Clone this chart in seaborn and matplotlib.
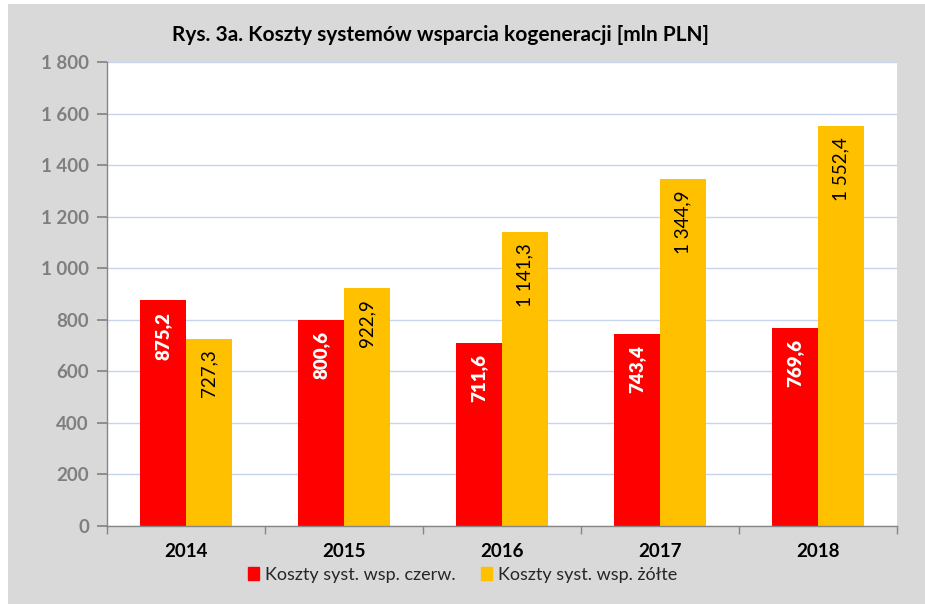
import matplotlib
matplotlib.use("Agg")
import matplotlib.pyplot as plt
import matplotlib.patches as mpatches
from matplotlib.ticker import FuncFormatter, FixedLocator
import seaborn as sns
import pandas as pd

years = ["2014", "2015", "2016", "2017", "2018"]
red_vals = [875.2, 800.6, 711.6, 743.4, 769.6]
yellow_vals = [727.3, 922.9, 1141.3, 1344.9, 1552.4]
series_names = ["Koszty syst. wsp. czerw.", "Koszty syst. wsp. żółte"]
title = "Rys. 3a. Koszty systemów wsparcia kogeneracji [mln PLN]"

df = pd.DataFrame({
    "year": years * 2,
    "value": red_vals + yellow_vals,
    "series": [series_names[0]] * len(years) + [series_names[1]] * len(years),
})

sns.set_theme(style="white")
plt.rcParams["font.family"] = ["Lato", "DejaVu Sans"]

W, H = 925, 604
fig = plt.figure(figsize=(W / 100, H / 100), dpi=100, facecolor="white")
fig.patches.append(mpatches.Rectangle((8 / W, 0), 1, 1 - 4 / H, transform=fig.transFigure,
                                      facecolor="#D9D9D9", edgecolor="none", zorder=-10))

ax = fig.add_axes([107 / W, (H - 526) / H, (897 - 107) / W, (526 - 62) / H])
ax.set_facecolor("white")

colors = ["#FF0000", "#FFC000"]
sns.barplot(data=df, x="year", y="value", hue="series", palette=colors, saturation=1,
            width=0.576, gap=0, ax=ax, legend=False, edgecolor="none")

ax.set_ylim(0, 1800)
ax.set_xlim(-0.5, len(years) - 0.5)
ax.yaxis.set_major_locator(FixedLocator(range(0, 1801, 200)))
ax.yaxis.set_major_formatter(FuncFormatter(lambda v, p: f"{int(v):,}".replace(",", " ")))
ax.grid(axis="y", color="#C6D5EC", linewidth=1)
ax.set_axisbelow(True)

for s in ["top", "right"]:
    ax.spines[s].set_visible(False)
for s in ["left", "bottom"]:
    ax.spines[s].set_color("#868686")
    ax.spines[s].set_linewidth(1)

ax.set_xlabel("")
ax.set_ylabel("")
ax.tick_params(axis="y", which="major", length=7, color="#868686", labelsize=13.5,
               labelcolor="#7F7F7F", pad=6, left=True)
for lbl in ax.get_yticklabels():
    lbl.set_fontweight("bold")
ax.tick_params(axis="x", which="major", length=0, labelsize=13.5, labelcolor="black", pad=12)
for lbl in ax.get_xticklabels():
    lbl.set_fontweight("bold")
ax.set_xticks([i - 0.5 for i in range(len(years) + 1)], minor=True)
ax.tick_params(axis="x", which="minor", length=6, color="#868686", bottom=True)

def fmt(v):
    s = f"{v:,.1f}"
    return s.replace(",", " ").replace(".", ",")

for ci, cont in enumerate(ax.containers):
    for bar in cont:
        h = bar.get_height()
        ax.annotate(fmt(h), (bar.get_x() + bar.get_width() / 2, h),
                    xytext=(0, -8), textcoords="offset points",
                    rotation=90, ha="center", va="top", fontsize=13.5,
                    color="white" if ci == 0 else "black",
                    fontweight="heavy" if ci == 0 else "normal")

fig.text(440 / W, 1 - 35 / H, title, ha="center", va="center", fontsize=15,
         fontweight="bold", color="black")

handles = [mpatches.Patch(color=c, label=n) for c, n in zip(colors, series_names)]
fig.legend(handles=handles, loc="center", bbox_to_anchor=(0.5, 1 - 575 / H), ncol=2,
           frameon=False, fontsize=13, handlelength=0.6, handleheight=0.7,
           handletextpad=0.35, columnspacing=1.4)

fig.savefig("out.png", dpi=100, facecolor=fig.get_facecolor())
